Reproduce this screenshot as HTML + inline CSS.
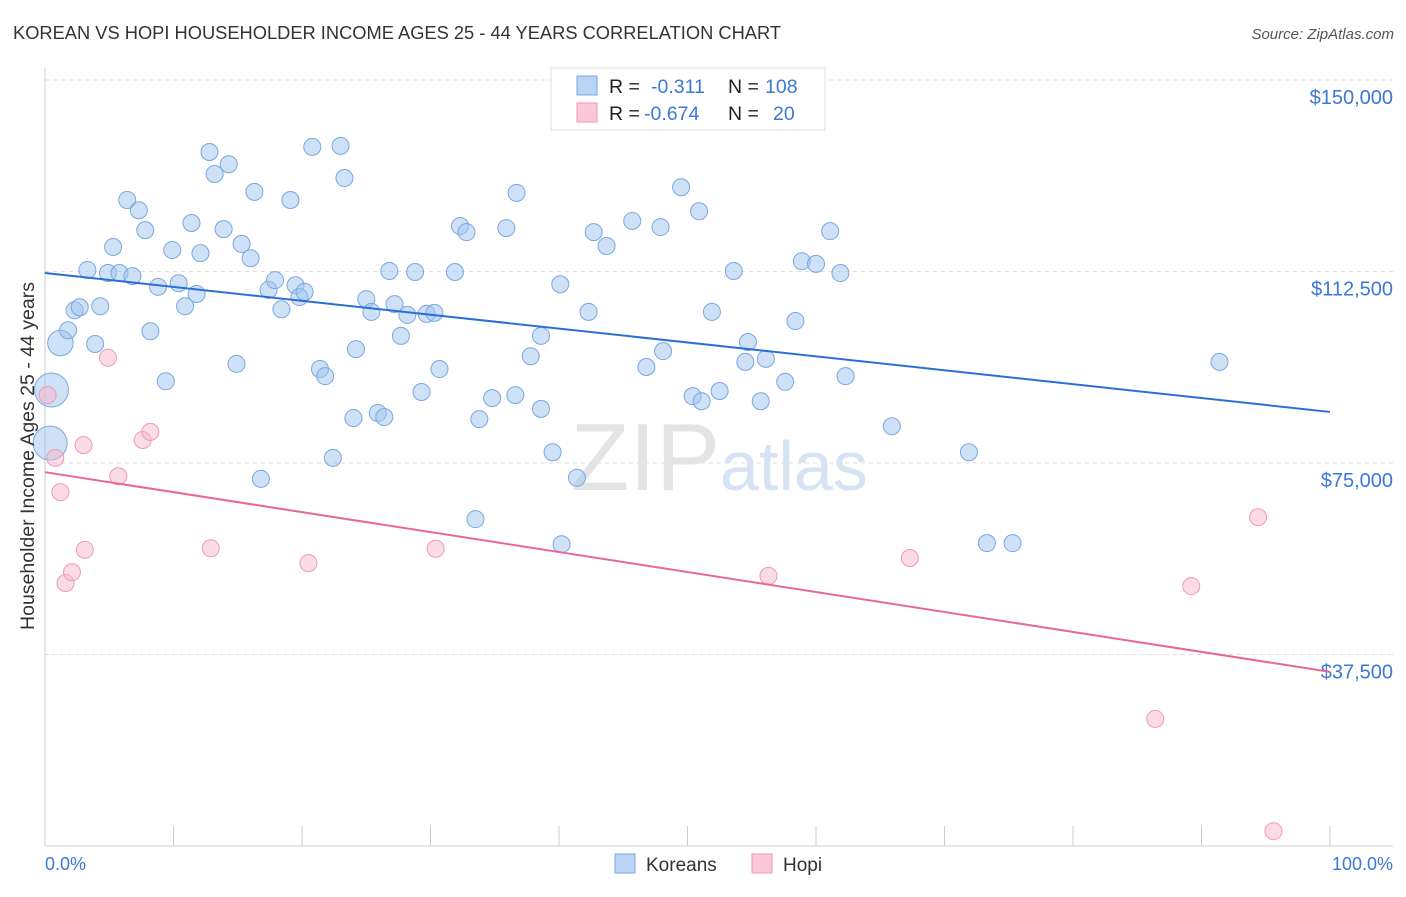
<!DOCTYPE html>
<html><head><meta charset="utf-8"><style>
body{margin:0;background:#fff;font-family:"Liberation Sans",sans-serif;}
svg text{font-family:"Liberation Sans",sans-serif;}
</style></head><body>
<svg id="chart" width="1406" height="892">
<text x="13" y="39" font-size="18.3" fill="#333">KOREAN VS HOPI HOUSEHOLDER INCOME AGES 25 - 44 YEARS CORRELATION CHART</text>
<text x="1394" y="39" font-size="15" fill="#555" font-style="italic" text-anchor="end">Source: ZipAtlas.com</text>
<g id="grid"></g>
<text x="720" y="490" font-size="96" fill="#e4e4e4" font-family="Liberation Serif" text-anchor="end">ZIP</text>
<text x="720" y="490" font-size="70" fill="#d6e3f3" text-anchor="start">atlas</text>
<g id="pts"></g>
<g id="lines"></g>
<text x="34" y="456" font-size="19.5" fill="#333" text-anchor="middle" transform="rotate(-90 34 456)">Householder Income Ages 25 - 44 years</text>
<text x="45" y="870" font-size="18" fill="#3b78d8">0.0%</text>
<text x="1393" y="870" font-size="18" fill="#3b78d8" text-anchor="end">100.0%</text>
<g>
<rect x="551" y="68" width="274" height="62" fill="#fff" stroke="#ddd"/>
<rect x="577" y="76" width="20" height="19" fill="#b9d3f5" stroke="#7aa7e0"/>
<rect x="577" y="103" width="20" height="19" fill="#fbc8d8" stroke="#ee9ab6"/>
<text x="609" y="93" font-size="19.5" fill="#222">R = </text><text x="651" y="93" font-size="19.5" fill="#3b78d8">-0.311</text>
<text x="728" y="93" font-size="19.5" fill="#222">N = </text><text x="765" y="93" font-size="19.5" fill="#3b78d8">108</text>
<text x="609" y="120" font-size="19.5" fill="#222">R = </text><text x="644" y="120" font-size="19.5" fill="#3b78d8">-0.674</text>
<text x="728" y="120" font-size="19.5" fill="#222">N = </text><text x="773" y="120" font-size="19.5" fill="#3b78d8">20</text>
</g>
<g>
<rect x="615" y="854" width="20" height="19" fill="#b9d3f5" stroke="#7aa7e0"/>
<text x="646" y="871" font-size="19" fill="#333">Koreans</text>
<rect x="752" y="854" width="20" height="19" fill="#fbc8d8" stroke="#ee9ab6"/>
<text x="783" y="871" font-size="19" fill="#333">Hopi</text>
</g>
</svg>
<script>
const yTicks=[37500,75000,112500,150000];
const yTickLabels=["$37,500","$75,000","$112,500","$150,000"];
const korX=[0.5,0.4,1.2,1.8,2.3,2.7,3.9,4.3,3.3,5.3,4.9,5.8,6.8,6.4,7.3,7.8,8.2,8.8,9.4,9.9,10.4,10.9,11.4,11.8,12.1,12.8,13.2,13.9,14.3,14.9,15.3,16.0,16.3,16.8,17.4,17.9,18.4,19.1,19.5,19.8,20.2,20.8,21.4,21.8,22.4,23.0,23.3,24.0,24.2,25.0,25.4,25.9,26.4,26.8,27.2,27.7,28.2,28.8,29.3,29.7,30.3,30.7,31.9,32.3,32.8,33.8,33.5,34.8,35.9,36.6,36.7,37.8,38.6,38.6,39.5,40.1,40.2,41.4,42.3,42.7,43.7,45.7,46.8,47.9,48.1,49.5,50.4,50.9,51.1,51.9,52.5,53.6,54.5,54.7,55.7,56.1,57.6,58.4,58.9,60.0,61.1,61.9,62.3,65.9,71.9,73.3,75.3,91.4];
const korY=[89.3,78.9,98.5,101.0,104.9,105.5,98.3,105.7,112.8,117.3,112.2,112.2,111.6,126.5,124.5,120.6,100.8,109.5,91.0,116.7,110.2,105.7,122.0,108.1,116.1,135.9,131.6,120.8,133.5,94.4,117.9,115.1,128.1,71.9,108.9,110.8,105.1,126.5,109.8,107.5,108.5,136.9,93.4,92.0,76.0,137.1,130.8,83.8,97.3,107.1,104.6,84.8,84.0,112.6,106.1,99.9,104.0,112.4,88.9,104.2,104.4,93.4,112.4,121.4,120.2,83.6,64.0,87.7,121.0,88.3,127.9,95.9,99.9,85.6,77.1,110.0,59.1,72.1,104.6,120.2,117.5,122.4,93.8,121.2,96.9,129.0,88.1,124.3,87.1,104.6,89.1,112.6,94.8,98.7,87.1,95.4,90.9,102.8,114.5,114.0,120.4,112.2,92.0,82.2,77.1,59.3,59.3,94.8];
const korSize=[2,2,1.5];
const hopiX=[0.2,0.8,1.2,1.6,2.1,3.0,3.1,4.9,5.7,7.6,8.2,12.9,20.5,30.4,56.3,67.3,86.4,89.2,94.4,95.6];
const hopiY=[88.3,76.0,69.3,51.5,53.6,78.5,58.0,95.6,72.4,79.5,81.1,58.3,55.4,58.2,52.9,56.4,24.9,50.9,64.4,2.9];
const korTrend=[112.2,85.0];
const hopiTrend=[73.2,34.1];
const NS="http://www.w3.org/2000/svg";
const X0=45,X1=1330,Y0=846,PX_PER=191.5/37500;
const sx=p=>X0+(X1-X0)*p/100;
const sy=v=>Y0-v*PX_PER;
function mk(t,a,parent){const e=document.createElementNS(NS,t);for(const k in a)e.setAttribute(k,a[k]);parent.appendChild(e);return e;}
const grid=document.getElementById('grid');
yTicks.forEach((v,i)=>{
 const l=mk('line',{x1:X0,x2:1393,y1:sy(v),y2:sy(v),stroke:'#ddd','stroke-dasharray':'4,4'},grid);
 
 
 const t=mk('text',{x:1393,y:sy(v)+24,'font-size':20,fill:'#3b78d8','text-anchor':'end'},grid);
 t.textContent=yTickLabels[i];
 
 
});
const ax=mk('line',{x1:X0,x2:X0,y1:68,y2:Y0,stroke:'#ccc'},grid);


const bx=mk('line',{x1:X0,x2:1393,y1:Y0,y2:Y0,stroke:'#ccc'},grid);


for(let i=0;i<=10;i++){const t=mk('line',{x1:sx(i*10),x2:sx(i*10),y1:826,y2:Y0,stroke:'#ccc'},grid);
 
 }
const pts=document.getElementById('pts');
korX.forEach((x,i)=>{const r=8.5*(korSize[i]||1);
 const c=mk('circle',{cx:sx(x),cy:sy(korY[i]*1000),r:r,fill:'rgba(160,196,240,0.5)',stroke:'#7aa7e0','stroke-width':1},pts);
 
 });
hopiX.forEach((x,i)=>{
 const c=mk('circle',{cx:sx(x),cy:sy(hopiY[i]*1000),r:8.5,fill:'rgba(248,184,206,0.5)',stroke:'#ee9ab6','stroke-width':1},pts);
 
 });
const lines=document.getElementById('lines');
const l1=mk('line',{x1:sx(0),x2:sx(100),y1:sy(korTrend[0]*1000),y2:sy(korTrend[1]*1000),stroke:'#2a6fd6','stroke-width':2},lines);


const l2=mk('line',{x1:sx(0),x2:sx(100),y1:sy(hopiTrend[0]*1000),y2:sy(hopiTrend[1]*1000),stroke:'#e8679a','stroke-width':2},lines);


</script>
</body></html>
